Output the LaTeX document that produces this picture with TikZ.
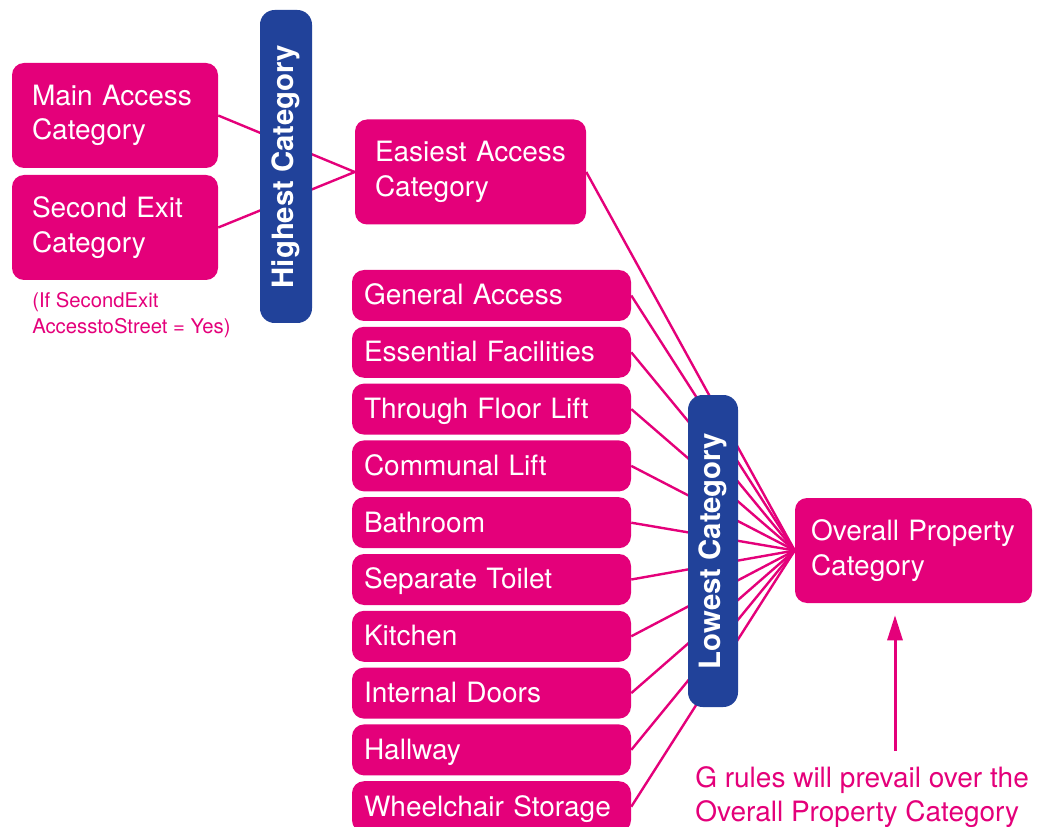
\documentclass[tikz,border=0pt]{standalone}
\usepackage{fontspec}
\setmainfont{TeX Gyre Heros}
\usetikzlibrary{arrows.meta}

\definecolor{rubine}{RGB}{228,0,122}
\definecolor{barblue}{RGB}{33,66,154}
\hyphenpenalty=10000

\begin{document}
\begin{tikzpicture}[x=0.75pt, y=-0.75pt, >=Latex]
    \tikzset{
        cat_box/.style={fill=rubine, rounded corners=9pt, text=white, align=left,
            font=\fontsize{21}{26}\selectfont, minimum height=78.75pt,
            inner xsep=15pt, inner ysep=0pt},
        item_box/.style={fill=rubine, rounded corners=9pt, text=white, align=left,
            font=\fontsize{21}{26}\selectfont, text width=191.25pt,
            text height=15.5pt, text depth=1.5pt,
            inner xsep=9pt, inner ysep=0pt, minimum height=38.25pt},
        rank_bar/.style={fill=barblue, rounded corners=11pt, text=white, rotate=90,
            font=\fontsize{22}{26}\selectfont\bfseries, inner sep=0pt},
        link/.style={draw=rubine, line width=1.8pt},
        rule_arrow/.style={draw=rubine, line width=2.25pt,
            -{Triangle[length=18.75pt, width=11.25pt]}},
        note_text/.style={text=rubine, align=left, anchor=north west, inner sep=0pt}
    }

    \clip (0,0) rectangle (1046,827);

    % access categories
    \node[cat_box, text width=124.5pt] (main_access) at (115,115.5) {Main Access\\Category};
    \node[cat_box, text width=124.5pt] (second_exit) at (115,227.5) {Second Exit\\Category};
    \node[note_text, font=\fontsize{15.2}{19.5}\selectfont] (exit_note) at (32,292)
        {(If SecondExit\\AccesstoStreet = Yes)};
    \node[cat_box, text width=143.25pt] (easiest) at (470.5,172) {Easiest Access\\Category};

    % room items
    \foreach \label [count=\i] in {General Access, Essential Facilities, Through Floor Lift,
        Communal Lift, Bathroom, Separate Toilet, Kitchen, Internal Doors, Hallway,
        Wheelchair Storage}
        \node[item_box] (item\i) at (491.5, {238.7+56.8*\i}) {\label};

    \node[cat_box, inner xsep=12pt, text width=153.75pt] (overall) at (913.5,550.5)
        {Overall Property\\Category};

    % connectors (behind the bars)
    \draw[link] (main_access.east) -- (easiest.west);
    \draw[link] (second_exit.east) -- (easiest.west);
    \draw[link] (easiest.east) -- (overall.west);
    \foreach \i in {1,...,10}
        \draw[link] (item\i.east) -- (overall.west);

    % ranking bars
    \node[rank_bar, minimum width=234.75pt, minimum height=39pt] (highest) at (286,166.5) {Highest Category};
    \node[rank_bar, minimum width=234pt, minimum height=37.5pt] (lowest) at (713,551) {Lowest Category};

    % G rules note
    \node[note_text, font=\fontsize{21}{26}\selectfont] (rule_note) at (695,766)
        {G rules will prevail over the\\Overall Property Category};
    \coordinate (rule_foot) at (895,751);
    \draw[rule_arrow, shorten >=9pt] (rule_foot) -- (rule_foot |- overall.south);

\end{tikzpicture}
\end{document}
